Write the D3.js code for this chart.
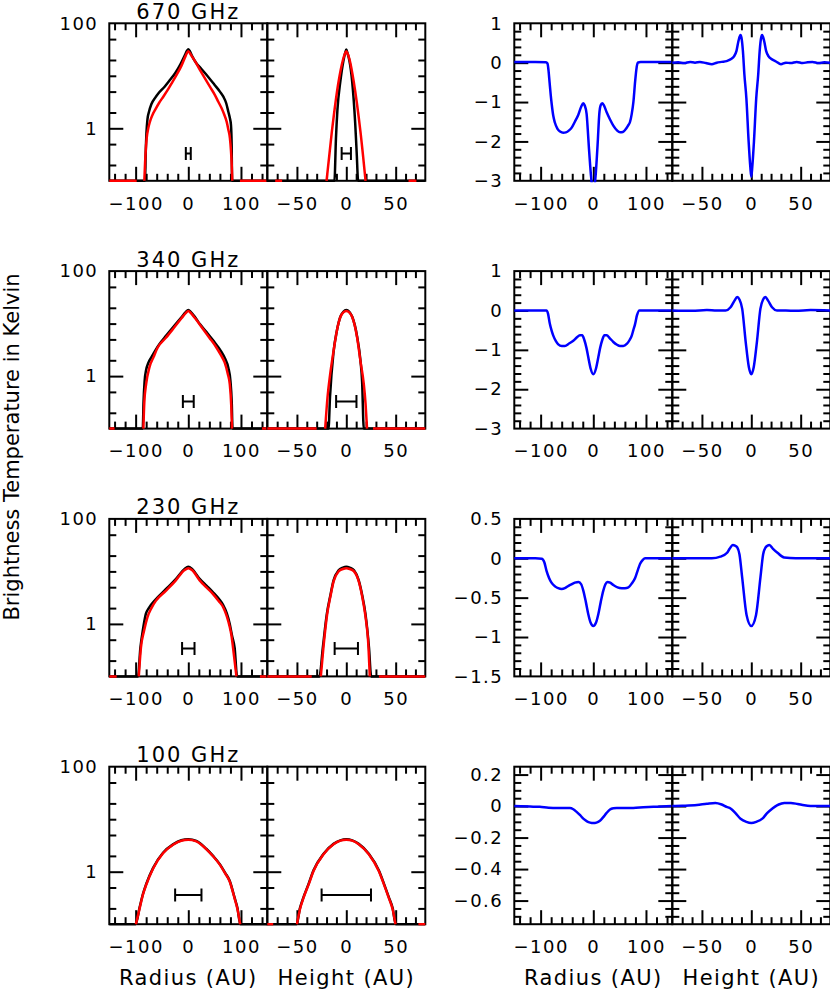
<!DOCTYPE html>
<html>
<head>
<meta charset="utf-8">
<script src="https://cdn.jsdelivr.net/npm/d3@7"></script>
<style>
  html, body { margin: 0; padding: 0; background: #fff; }
  svg text { font-family: "DejaVu Sans", sans-serif; fill: #000; }
  .tick text { font-size: 18px; letter-spacing: 1.5px; }
  .title { font-size: 21px; letter-spacing: 2px; }
  .axtitle { font-size: 21px; letter-spacing: 1.4px; }
  .ylabel { font-size: 21px; }
</style>
</head>
<body>
<div id="chart"></div>
<script>
// ---- data (AU, Kelvin) ----
const freqLabels = ["670 GHz", "340 GHz", "230 GHz", "100 GHz"];
const beamHalfWidth = [4.7, 10.3, 11.8, 25];      // AU
const beamLevel = [0.33, 0.33, 0.34, 0.36];       // K

// 670 GHz
const radBlack670 = [[-150,0.1],[-82,0.1],[-81,0.3],[-79.5,0.8],[-77.5,1.5],[-75,2.0],[-70,2.9],[-63,3.8],[-57,4.6],[-45,6.2],[-35,8.3],[-25,11.2],[-15,16.5],[-7,24],[-2.5,30],[0,32],[2.5,30],[7,24],[15,17.5],[25,13.5],[32,11.2],[50,6.7],[60,5.0],[66.5,4.0],[72,3.0],[76,2.07],[79,1.55],[81,1.16],[82.3,0.5],[83.2,0.1],[150,0.1]];
const radRed670 = [[-150,0.1],[-98,0.1],[-90,null],[-83.5,0.1],[-82,0.23],[-80.5,0.42],[-79,0.65],[-76,1.0],[-72.8,1.34],[-68,1.8],[-63,2.24],[-55,3.1],[-47.5,4.0],[-40,5.2],[-31.6,7.2],[-22,10.5],[-12.7,15.8],[-5,24],[0,29.5],[5,25],[12.7,19],[22,13],[31.6,8.9],[41,6.2],[50.6,4.3],[57,3.2],[63.3,2.4],[68,1.85],[72.8,1.34],[76,0.95],[79,0.65],[81,0.38],[82.5,0.2],[83.5,0.1],[90,null],[98,0.1],[150,0.1]];
const hgtBlack670 = [[-80,0.1],[-12,0.1],[-10.5,0.63],[-9,2.24],[-6,7.9],[-3,19],[-1.2,27],[0,31.6],[1.2,27],[3,20],[6,7.6],[9,1.26],[10.5,0.35],[12,0.1],[80,0.1]];
const hgtRed670 = [[-72,0.1],[-65,0.1],[-40,null],[-20,0.1],[-14.6,0.87],[-7.8,7.8],[-3.4,20],[-1.5,26],[0,29.5],[1.5,26],[3.4,20],[7.5,7.8],[14.3,0.87],[19.5,0.1],[40,null],[63,0.1],[71,0.1]];
const radDiff670 = [[-150,0.02],[-110,0.02],[-90,0.01],[-87,-0.02],[-85,-0.2],[-83,-0.5],[-81,-0.8],[-79,-1.05],[-76,-1.35],[-73,-1.52],[-68,-1.68],[-63,-1.75],[-57,-1.78],[-52,-1.77],[-46,-1.72],[-41,-1.65],[-35,-1.5],[-28.6,-1.33],[-23,-1.12],[-19,-1.03],[-16.5,-1.08],[-12.7,-1.3],[-10.5,-1.7],[-8.3,-2.17],[-6,-2.6],[-4.4,-2.87],[-2,-3.15],[0,-3.2],[2,-3.15],[4.4,-2.87],[6.3,-2.5],[8.5,-2.0],[11.4,-1.3],[14,-1.08],[17,-1.03],[20,-1.08],[25.4,-1.26],[32,-1.45],[38,-1.6],[45,-1.72],[50.8,-1.77],[56,-1.76],[60.3,-1.71],[66,-1.6],[69.8,-1.5],[73,-1.3],[76.2,-0.99],[79.4,-0.48],[82,-0.15],[84.4,0],[90,0.02],[150,0.02]];
const hgtDiff670 = [[-80,0],[-74,0.01],[-68,-0.01],[-62,0.02],[-57,0],[-52,0.02],[-46,-0.01],[-40,-0.04],[-35,0],[-30,0.02],[-25,0.04],[-20,0.1],[-17.5,0.16],[-15,0.3],[-13,0.55],[-11,0.7],[-10,0.64],[-8.5,0.3],[-7,-0.3],[-5,-0.9],[-2.7,-2.0],[-1,-2.65],[0,-2.9],[1,-2.65],[2.7,-2.0],[5,-0.9],[7,-0.3],[8.5,0.3],[10,0.64],[11,0.7],[13,0.55],[15,0.3],[17.5,0.16],[20,0.1],[25,0.03],[30,-0.04],[35,0.0],[40,-0.01],[46,0.02],[52,-0.01],[57,0.01],[62,0.02],[68,-0.01],[74,0.01],[80,0]];

// 340 GHz
const radBlack340 = [[-150,0.1],[-86.5,0.1],[-85,0.32],[-83,0.79],[-80,1.32],[-76,1.78],[-70,2.3],[-55,4.07],[-42,5.9],[-29,8.5],[-13,13.2],[-5,16.5],[0,18.2],[5,16.5],[13,13.2],[22,9.8],[35,6.8],[47,4.8],[62,3.0],[70,2.14],[76,1.45],[80,0.81],[82.5,0.32],[84,0.1],[150,0.1]];
const radRed340 = [[-150,0.1],[-140,0.1],[-100,null],[-85.3,0.1],[-83.5,0.32],[-80,0.71],[-73.7,1.48],[-66,2.3],[-57.8,3.55],[-43,5.3],[-29,7.9],[-13,12.6],[-5,15.8],[0,17.4],[5,15.8],[13,12.6],[27.9,7.9],[40,5.4],[53,3.55],[62,2.5],[69,1.82],[75,1.1],[78.7,0.71],[81.5,0.28],[83,0.1],[100,null],[140,0.1],[150,0.1]];
const hgtBlack340 = [[-80,0.1],[-18,0.1],[-16.5,0.4],[-13,2.8],[-9.5,7.4],[-6,13.5],[-3,16.8],[0,18.2],[3,16.8],[6,13.5],[10.9,5.75],[14.3,2.0],[16,0.79],[17.7,0.1],[80,0.1]];
const hgtRed340 = [[-80,0.1],[-30,0.1],[-25,null],[-21.4,0.1],[-19,0.4],[-16.3,1.1],[-12.9,3.0],[-9.5,7.4],[-6.1,13.2],[-3,16.3],[0,17.4],[3,16.3],[6.1,13.2],[10.9,5.5],[14.3,1.95],[17.7,0.71],[19.5,0.3],[21,0.1],[24,null],[27,0.1],[80,0.1]];
const radDiff340 = [[-150,0],[-100,0],[-89,0],[-86,-0.08],[-82.5,-0.34],[-79,-0.52],[-76,-0.64],[-71,-0.78],[-66.5,-0.86],[-60,-0.9],[-54,-0.9],[-46,-0.84],[-38,-0.77],[-31,-0.68],[-25.4,-0.63],[-21,-0.63],[-17,-0.75],[-13,-0.95],[-9.5,-1.19],[-5,-1.48],[0,-1.62],[5,-1.48],[9.5,-1.19],[13,-0.95],[17,-0.75],[21,-0.63],[25.4,-0.63],[31,-0.7],[38,-0.8],[45,-0.87],[50.8,-0.9],[57,-0.9],[63.5,-0.85],[69,-0.75],[73,-0.64],[76,-0.5],[79.4,-0.34],[83,-0.12],[87.6,0],[100,0],[150,0]];
const hgtDiff340 = [[-80,0],[-60,-0.01],[-45,0.01],[-35,0],[-26,0],[-21,0.08],[-17,0.25],[-14.3,0.34],[-12,0.28],[-9.2,0.04],[-5.8,-0.77],[-2.4,-1.45],[0,-1.62],[2.4,-1.45],[5.8,-0.77],[9.2,0.04],[12,0.28],[14.3,0.34],[17,0.25],[21,0.08],[26,0],[35,0],[45,-0.01],[60,0.01],[80,0]];

// 230 GHz
const radBlack230 = [[-150,0.1],[-95.5,0.1],[-91,0.35],[-86,0.79],[-80.6,1.55],[-75,2.0],[-61.7,2.95],[-42.7,4.57],[-23.7,7.1],[-7.6,11],[0,12.3],[7.6,11],[21.6,7.2],[35,5.3],[47,4.0],[58,3.0],[66,2.3],[73,1.6],[78.7,1.0],[83,0.6],[88,0.35],[92.7,0.1],[150,0.1]];
const radRed230 = [[-150,0.1],[-136,0.1],[-110,null],[-94,0.1],[-90,0.35],[-84,0.74],[-77.5,1.35],[-70,2.0],[-61.7,2.75],[-42.7,4.27],[-23.7,6.76],[-7.6,10.5],[0,11.5],[7.6,10.5],[21.6,6.76],[35,4.9],[47,3.7],[58,2.7],[66,2.1],[73,1.4],[78.7,0.87],[82,0.6],[85,0.35],[91.4,0.1],[110,null],[136,0.1],[150,0.1]];
const hgtBlack230 = [[-80,0.1],[-27.2,0.1],[-23.8,0.35],[-19.7,1.55],[-16,3.6],[-12.9,6.76],[-7.8,10.5],[-3.5,11.8],[0,12.3],[3.5,11.8],[7.8,10.5],[12.6,6.76],[16,3.6],[19.4,1.55],[23,0.35],[25.2,0.1],[80,0.1]];
const hgtRed230 = [[-80,0.1],[-35,0.1],[-30,null],[-25.8,0.1],[-23.2,0.35],[-19.5,1.48],[-16,3.4],[-12.9,6.46],[-7.8,10],[-3.5,11.1],[0,11.5],[3.5,11.1],[7.8,10],[12.6,6.46],[16,3.4],[19.2,1.48],[22.5,0.35],[23.8,0.1],[28,null],[33,0.1],[80,0.1]];
const radDiff230 = [[-150,0],[-110,0],[-98,-0.005],[-93,-0.05],[-88.8,-0.16],[-84,-0.25],[-79.4,-0.31],[-72,-0.36],[-66.7,-0.38],[-60,-0.39],[-54,-0.38],[-47,-0.35],[-41.3,-0.33],[-35,-0.31],[-28,-0.3],[-23,-0.33],[-19,-0.41],[-14,-0.56],[-9.5,-0.71],[-5,-0.82],[0,-0.86],[5,-0.82],[9.5,-0.71],[14,-0.56],[19,-0.41],[23,-0.33],[27,-0.3],[32,-0.31],[38,-0.34],[46,-0.37],[54,-0.38],[60,-0.38],[66.7,-0.37],[73,-0.32],[79.4,-0.25],[85,-0.14],[88.9,-0.07],[94,-0.02],[98.4,0],[110,0],[150,0]];
const hgtDiff230 = [[-80,0],[-60,0],[-40,0],[-31.3,0.02],[-24.5,0.07],[-22,0.12],[-18.7,0.168],[-16.5,0.16],[-14.3,0.14],[-12,0.05],[-9.2,-0.25],[-4.8,-0.72],[0,-0.86],[4.8,-0.72],[9.2,-0.25],[12,0.05],[14.6,0.14],[16.5,0.16],[18.3,0.168],[22,0.12],[26.5,0.07],[33.3,0.01],[45,0],[60,0],[80,0]];

// 100 GHz
const radBlack100 = [[-150,0.1],[-100,0.1],[-92.4,0.21],[-86,0.38],[-79.7,0.59],[-67,1.17],[-48,2.29],[-29,3.31],[-13.3,3.98],[0,4.15],[15.2,3.85],[34,2.74],[47,2.0],[59.4,1.41],[70,0.95],[78.4,0.68],[87.9,0.32],[93.5,0.2],[98.7,0.1],[150,0.1]];
const radRed100 = [[-99.5,0.1],[-92.4,0.2],[-86,0.37],[-79.7,0.57],[-67,1.14],[-48,2.24],[-29,3.25],[-13.3,3.9],[0,4.05],[15.2,3.78],[34,2.7],[47,1.97],[59.4,1.38],[70,0.93],[78.4,0.66],[87.9,0.31],[93.5,0.19],[98.5,0.1]];
const hgtBlack100 = [[-80,0.1],[-50.3,0.1],[-47,0.2],[-43.5,0.32],[-38,0.6],[-33.3,1.05],[-23,2.19],[-12.9,3.39],[-6,3.95],[0,4.13],[6,3.95],[12.6,3.39],[22.8,2.19],[33,1.05],[38,0.6],[43.2,0.32],[47,0.2],[50,0.1],[80,0.1]];
const hgtRed100 = [[-80,0.1],[-74,0.1],[-60,null],[-50,0.1],[-47,0.19],[-43.5,0.31],[-38,0.58],[-33.3,1.02],[-23,2.15],[-12.9,3.33],[-6,3.9],[0,4.08],[6,3.9],[12.6,3.33],[22.8,2.15],[33,1.02],[38,0.58],[43.2,0.31],[47,0.19],[49.8,0.1],[60,null],[73,0.1],[80,0.1]];
const radDiff100 = [[-150,0],[-120,-0.003],[-101.6,-0.005],[-85,-0.01],[-69.8,-0.012],[-55,-0.012],[-44.4,-0.012],[-38,-0.02],[-31.7,-0.037],[-25,-0.058],[-19,-0.08],[-12,-0.097],[-6,-0.105],[0,-0.108],[6,-0.105],[12,-0.095],[19,-0.07],[25,-0.045],[31.7,-0.022],[38,-0.014],[44.4,-0.012],[60,-0.012],[76,-0.012],[95,-0.008],[114,-0.005],[130,-0.002],[150,0]];
const hgtDiff100 = [[-80,0],[-70,0.002],[-55,0.007],[-45,0.015],[-36.4,0.02],[-30,0.01],[-25,-0.005],[-21,-0.015],[-16,-0.045],[-10.9,-0.08],[-5,-0.1],[0,-0.107],[5,-0.1],[11.2,-0.08],[16,-0.045],[21.4,-0.015],[26,0.005],[30,0.015],[33.3,0.02],[40,0.02],[47,0.013],[53.7,0.005],[60,0.001],[67.3,0],[80,0]];

// axes
const diffDomains = [[-3, 1], [-3, 1], [-1.5, 0.5], [-0.75, 0.25]];
const diffLabels = [[1, 0, -1, -2, -3], [1, 0, -1, -2, -3], [0.5, 0, -0.5, -1, -1.5], [0.2, 0, -0.2, -0.4, -0.6]];
const diffMinorStep = [0.2, 0.2, 0.1, 0.05];
const logLabels = [100, 1];
const logMajor = [1];
const logMinor = [0.2, 0.5, 2, 5, 10, 20, 50];
const radLabels = [-100, 0, 100];
const hgtLabels = [-50, 0, 50];

const rows = [
  {rb: radBlack670, rr: radRed670, hb: hgtBlack670, hr: hgtRed670, rd: radDiff670, hd: hgtDiff670},
  {rb: radBlack340, rr: radRed340, hb: hgtBlack340, hr: hgtRed340, rd: radDiff340, hd: hgtDiff340},
  {rb: radBlack230, rr: radRed230, hb: hgtBlack230, hr: hgtRed230, rd: radDiff230, hd: hgtDiff230},
  {rb: radBlack100, rr: radRed100, hb: hgtBlack100, hr: hgtRed100, rd: radDiff100, hd: hgtDiff100}
];

// ---- layout ----
const panelW = 158, panelH = 157.5;
const groupX = [109.3, 514.3];
const rowY = d3.range(4).map(i => 23.3 + i * 247.8);

const svg = d3.select("#chart").append("svg")
  .attr("width", 830).attr("height", 991);

const xRad = d3.scaleLinear().domain([-150, 150]).range([0, panelW]);
const xHgt = d3.scaleLinear().domain([-80, 80]).range([0, panelW]);
const yLog = d3.scaleLog().domain([0.1, 100]).range([panelH, 0]);

const fmt = d => String(d).replace("-", "\u2212");
const radTicks = { major: radLabels, minor: d3.range(-140, 141, 20).filter(v => v % 100 !== 0) };
const hgtTicks = { major: hgtLabels, minor: d3.range(-70, 71, 10).filter(v => v % 50 !== 0) };

let clipCount = 0;

function addTicks(g, axis, tr, vals, len) {
  const a = g.append("g").attr("transform", tr)
    .call(axis.tickValues(vals).tickSize(-len).tickFormat(""));
  a.select(".domain").remove();
  a.selectAll("line").attr("stroke", "#000").attr("stroke-width", 2);
}

function drawPanel(px, py, x, y, xt, yt, yLabels, curves) {
  const g = svg.append("g").attr("transform", `translate(${px},${py})`);

  // ticks, inward on all four sides
  addTicks(g, d3.axisBottom(x), `translate(0,${panelH})`, xt.minor, 7);
  addTicks(g, d3.axisBottom(x), `translate(0,${panelH})`, xt.major, 14);
  addTicks(g, d3.axisTop(x), "translate(0,0)", xt.minor, 7);
  addTicks(g, d3.axisTop(x), "translate(0,0)", xt.major, 14);
  addTicks(g, d3.axisLeft(y), "translate(0,0)", yt.minor, 7);
  addTicks(g, d3.axisLeft(y), "translate(0,0)", yt.major, 14);
  addTicks(g, d3.axisRight(y), `translate(${panelW},0)`, yt.minor, 7);
  addTicks(g, d3.axisRight(y), `translate(${panelW},0)`, yt.major, 14);

  g.append("rect").attr("width", panelW).attr("height", panelH)
    .attr("fill", "none").attr("stroke", "#000").attr("stroke-width", 2);

  // tick labels
  const xl = g.append("g").attr("transform", `translate(0,${panelH})`)
    .call(d3.axisBottom(x).tickValues(xt.major).tickSize(0).tickPadding(16).tickFormat(fmt));
  xl.select(".domain").remove();
  xl.attr("font-size", null).attr("font-family", null);

  if (yLabels) {
    const yl = g.append("g")
      .call(d3.axisLeft(y).tickValues(yLabels).tickSize(0).tickPadding(11).tickFormat(fmt));
    yl.select(".domain").remove();
    yl.attr("font-size", null).attr("font-family", null);
  }

  // curves
  const id = "clip" + (clipCount++);
  g.append("clipPath").attr("id", id).append("rect")
    .attr("x", -1).attr("y", -1.5).attr("width", panelW + 2).attr("height", panelH + 3);
  const cg = g.append("g").attr("clip-path", `url(#${id})`);
  const line = d3.line()
    .defined(d => d[1] != null)
    .x(d => x(d[0])).y(d => y(d[1]))
    .curve(d3.curveMonotoneX);
  curves.forEach(c => {
    cg.append("path").datum(c.data)
      .attr("fill", "none").attr("stroke", c.color).attr("stroke-width", 2.5)
      .attr("stroke-linejoin", "round").attr("d", line);
  });
  return g;
}

function drawBeam(g, x, half, level) {
  const x0 = x(-half), x1 = x(half), yb = yLog(level), c = 6.5;
  g.append("path")
    .attr("d", `M${x0},${yb - c}V${yb + c}M${x0},${yb}H${x1}M${x1},${yb - c}V${yb + c}`)
    .attr("fill", "none").attr("stroke", "#000").attr("stroke-width", 2);
}

rows.forEach((r, i) => {
  const top = rowY[i];
  const logTicks = { major: logMajor, minor: logMinor };

  const g1 = drawPanel(groupX[0], top, xRad, yLog, radTicks, logTicks, logLabels,
    [{ data: r.rb, color: "#000" }, { data: r.rr, color: "#ff0000" }]);
  drawBeam(g1, xRad, beamHalfWidth[i], beamLevel[i]);

  const g2 = drawPanel(groupX[0] + panelW, top, xHgt, yLog, hgtTicks, logTicks, null,
    [{ data: r.hb, color: "#000" }, { data: r.hr, color: "#ff0000" }]);
  drawBeam(g2, xHgt, beamHalfWidth[i], beamLevel[i]);

  const yDiff = d3.scaleLinear().domain(diffDomains[i]).range([panelH, 0]);
  const [lo, hi] = diffDomains[i];
  const step = diffMinorStep[i];
  const major = diffLabels[i].filter(v => v > lo && v < hi);
  const minor = d3.range(Math.round((hi - lo) / step) + 1).map(k => lo + k * step)
    .filter(v => v > lo + 1e-6 && v < hi - 1e-6 && !major.some(m => Math.abs(m - v) < 1e-6));
  const diffTicks = { major: major, minor: minor };

  drawPanel(groupX[1], top, xRad, yDiff, radTicks, diffTicks, diffLabels[i],
    [{ data: r.rd, color: "#0000ff" }]);
  drawPanel(groupX[1] + panelW, top, xHgt, yDiff, hgtTicks, diffTicks, null,
    [{ data: r.hd, color: "#0000ff" }]);

  svg.append("text").attr("class", "title")
    .attr("x", groupX[0] + panelW / 2).attr("y", top - 4.5)
    .attr("text-anchor", "middle").text(freqLabels[i]);
});

// axis titles
groupX.forEach(gx => {
  svg.append("text").attr("class", "axtitle")
    .attr("x", gx + panelW / 2).attr("y", 985).attr("text-anchor", "middle").text("Radius (AU)");
  svg.append("text").attr("class", "axtitle")
    .attr("x", gx + panelW * 1.5).attr("y", 985).attr("text-anchor", "middle").text("Height (AU)");
});

svg.append("text").attr("class", "ylabel")
  .attr("transform", "translate(19,447) rotate(-90)")
  .attr("text-anchor", "middle")
  .text("Brightness Temperature in Kelvin");
</script>
</body>
</html>
